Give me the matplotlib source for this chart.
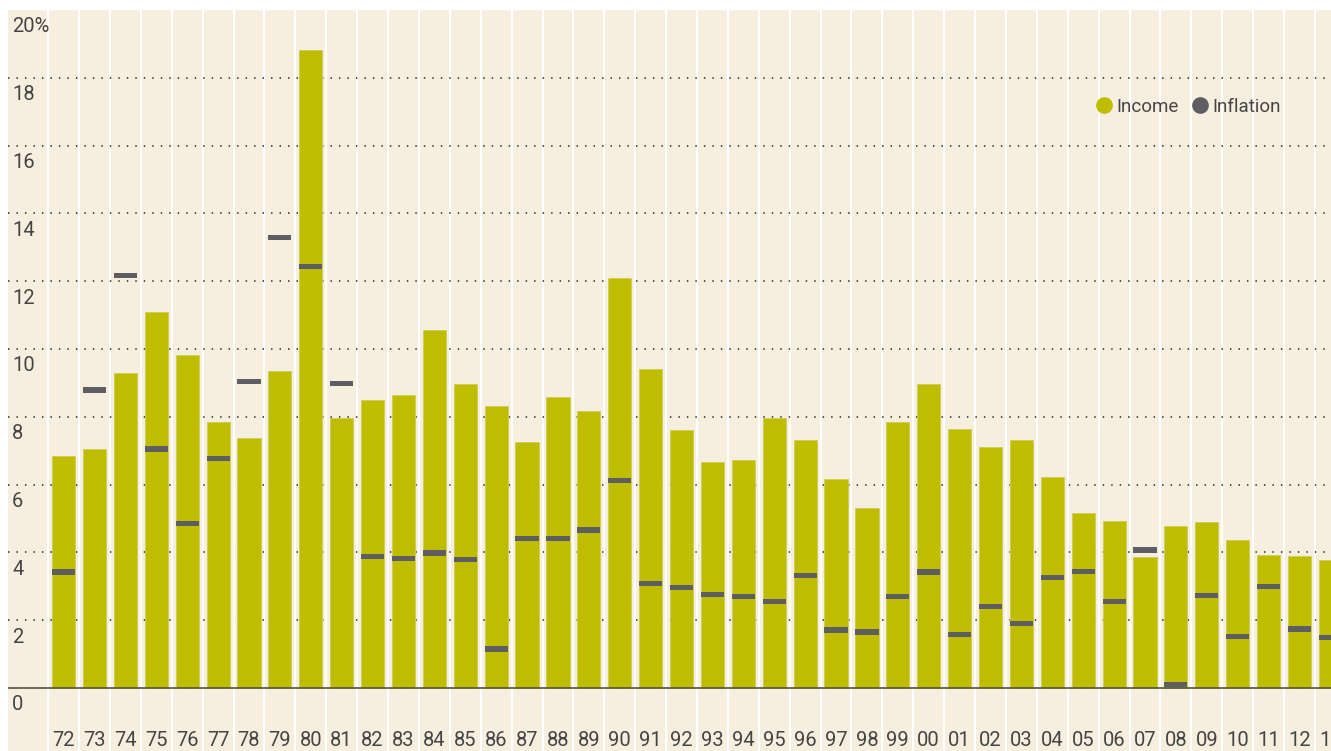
import matplotlib
matplotlib.use("Agg")
import matplotlib.pyplot as plt
from matplotlib.lines import Line2D

# Data (percent)
years = ["72", "73", "74", "75", "76", "77", "78", "79", "80", "81",
         "82", "83", "84", "85", "86", "87", "88", "89", "90", "91",
         "92", "93", "94", "95", "96", "97", "98", "99", "00", "01",
         "02", "03", "04", "05", "06", "07", "08", "09", "10", "11",
         "12", "13"]
income = [6.84, 7.05, 9.29, 11.09, 9.82, 7.85, 7.37, 9.35, 18.82, 7.96,
          8.50, 8.64, 10.56, 8.96, 8.32, 7.25, 8.58, 8.17, 12.09, 9.40,
          7.61, 6.67, 6.73, 7.95, 7.32, 6.17, 5.31, 7.85, 8.97, 7.64,
          7.11, 7.32, 6.22, 5.15, 4.92, 3.85, 4.77, 4.90, 4.37, 3.92,
          3.90, 3.77]
inflation = [3.42, 8.79, 12.18, 7.05, 4.84, 6.78, 9.03, 13.30, 12.42, 8.97,
             3.89, 3.81, 3.98, 3.80, 1.15, 4.42, 4.42, 4.66, 6.12, 3.08,
             2.95, 2.77, 2.69, 2.56, 3.33, 1.71, 1.65, 2.71, 3.42, 1.59,
             2.40, 1.91, 3.27, 3.44, 2.56, 4.07, 0.11, 2.74, 1.52, 2.99,
             1.74, 1.50]
yticks = [0, 2, 4, 6, 8, 10, 12, 14, 16, 18, 20]

bar_color = "#bfbd00"
infl_color = "#5e5e62"
bg_color = "#f6efdf"
text_color = "#454545"
plt.rcParams["font.family"] = ["Roboto", "DejaVu Sans"]

W, H = 1331, 751
fig = plt.figure(figsize=(W / 100, H / 100), dpi=100)
fig.patch.set_facecolor("white")
ax = fig.add_axes([8 / W, 0, (W - 8) / W, (H - 10) / H])
ax.set_facecolor(bg_color)
for s in ax.spines.values():
    s.set_visible(False)
ax.set_xticks([])
ax.set_yticks([])

n = len(years)
x = list(range(n))
ax.set_xlim(-1.80, n - 1 + 0.02)
ax.set_ylim(-1.86, 20)

# column separators
for i in range(n + 1):
    ax.axvline(i - 0.5, color="white", lw=1.5, zorder=1)

# dotted gridlines
for v in yticks[1:-1]:
    ax.axhline(v, color="#444444", lw=1.3, linestyle=(0, (0.8, 3.9)), zorder=2)

ax.bar(x, income, width=0.75, color=bar_color, edgecolor="#cfcd55",
       linewidth=0.6, zorder=3)
ax.bar(x, [0.15] * n, bottom=[v - 0.075 for v in inflation], width=0.75,
       color=infl_color, linewidth=0, zorder=4)

ax.axhline(0, color="#55553a", lw=1.2, zorder=5)

# y labels
for v in yticks:
    lab = f"{v}%" if v == 20 else str(v)
    ax.text(-1.67, v - 0.5, lab, ha="left", va="center", fontsize=14.5,
            color=text_color, zorder=6)

# x labels
for i, y in enumerate(years):
    ax.text(i, -1.55, y, ha="center", va="center", fontsize=14.5,
            color=text_color, zorder=6)

handles = [
    Line2D([], [], marker="o", linestyle="none", markersize=11,
           markerfacecolor=bar_color, markeredgecolor=bar_color, label="Income"),
    Line2D([], [], marker="o", linestyle="none", markersize=11,
           markerfacecolor=infl_color, markeredgecolor=infl_color, label="Inflation"),
]
leg = ax.legend(handles=handles, loc="center left",
                bbox_to_anchor=(1096 / W, 1 - 107 / H),
                bbox_transform=fig.transFigure, ncol=2, frameon=False,
                borderpad=0, borderaxespad=0, handlelength=0.8,
                handletextpad=0.3, columnspacing=0.7, fontsize=13.5)
for t in leg.get_texts():
    t.set_color(text_color)

fig.savefig("out.png", dpi=100, facecolor="white")
